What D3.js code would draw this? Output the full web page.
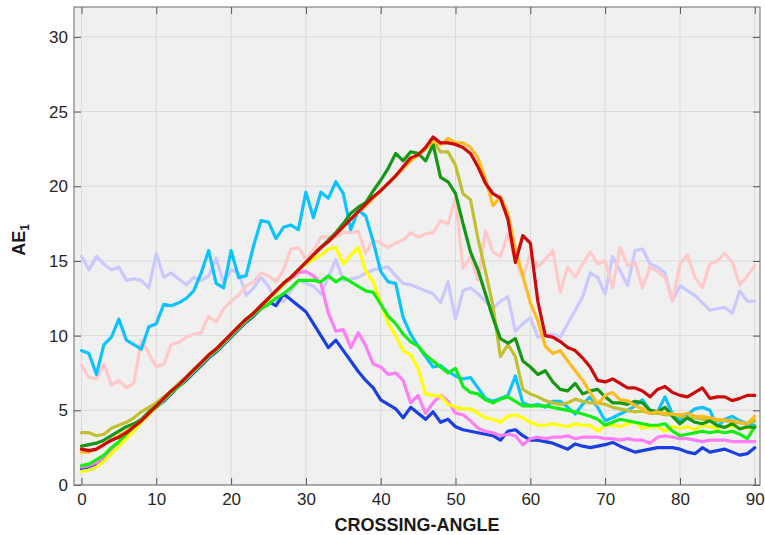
<!DOCTYPE html>
<html>
<head>
<meta charset="utf-8">
<script src="https://cdn.jsdelivr.net/npm/d3@7/dist/d3.min.js"></script>
<style>
body { margin: 0; background: #fff; }
svg text { font-family: "Liberation Sans", Arial, sans-serif; }
</style>
</head>
<body>
<svg id="chart"></svg>
<script>
// x categories (crossing angle, degrees)
var angles = d3.range(0, 91);
var xTicks = [0, 10, 20, 30, 40, 50, 60, 70, 80, 90];
var yTicks = [0, 5, 10, 15, 20, 25, 30];

var lavender = [15.3,14.4,15.3,14.8,14.4,14.6,13.7,13.8,13.7,13.2,15.5,
  13.9,14.2,13.8,13.4,13.9,13.7,14.0,15.2,13.5,14.4,
  14.2,12.7,13.2,13.9,13.3,12.3,12.3,13.0,13.7,13.5,
  13.3,12.8,13.9,15.1,13.7,13.8,13.9,14.2,14.4,14.5,
  14.6,14.0,13.5,13.4,13.2,13.0,12.8,12.2,13.6,11.1,
  13.0,13.2,12.8,12.3,11.8,12.3,12.6,10.3,10.8,11.2,
  9.9,10.0,10.1,9.9,10.8,11.7,12.6,14.2,13.9,12.8,
  15.3,14.35,13.35,15.7,15.8,14.8,14.6,14.2,12.3,13.35,
  13.0,12.7,12.2,11.7,11.8,11.9,11.5,13.0,12.3,12.3];

var pink = [8.0,7.2,7.1,8.1,6.7,7.0,6.5,6.8,9.7,8.8,7.9,
  8.1,9.4,9.55,9.9,10.1,10.2,11.3,10.9,11.8,12.3,
  12.7,13.3,13.6,14.2,14.0,13.6,14.4,15.8,15.9,15.1,
  15.7,16.6,16.6,16.6,16.9,16.9,17.0,15.5,16.4,16.2,
  15.9,16.2,16.4,16.9,16.6,16.8,16.9,17.7,17.5,19.2,
  14.5,15.25,13.7,17.0,15.6,15.3,16.8,15.0,13.9,15.5,
  14.6,15.1,15.7,12.9,14.6,13.9,14.8,15.6,14.8,15.0,
  13.2,15.9,14.7,14.9,13.2,14.6,14.3,13.9,12.3,14.8,
  15.4,13.9,13.2,14.8,15.0,15.5,14.9,13.35,14.0,14.7];

var cyan = [9.0,8.8,7.4,9.4,9.9,11.1,9.7,9.4,9.1,10.6,10.8,
  12.1,12.0,12.2,12.5,13.0,14.2,15.7,13.5,13.2,15.7,
  13.9,14.0,16.0,17.7,17.6,16.5,17.25,17.4,17.1,19.6,
  17.9,19.6,19.2,20.3,19.5,17.1,18.4,18.0,16.3,14.3,
  13.6,13.5,11.2,10.1,9.3,8.6,7.9,8.0,7.6,7.3,
  7.1,7.2,6.5,5.8,5.6,5.8,6.0,7.3,5.5,5.3,
  5.4,5.2,5.6,5.6,5.2,4.75,5.4,5.9,5.2,4.3,
  4.5,4.75,5.0,5.3,5.7,5.0,4.9,5.9,4.75,4.3,
  4.7,5.1,5.2,5.0,3.9,4.4,4.6,4.3,4.1,4.0];

var blue = [1.1,1.2,1.4,1.8,2.3,2.8,3.3,3.8,4.3,4.8,5.2,
  5.6,6.1,6.6,7.0,7.5,8.0,8.5,8.9,9.4,9.9,
  10.4,10.9,11.3,11.8,12.3,12.0,12.8,12.4,12.0,11.6,
  10.8,10.0,9.2,9.7,9.0,8.3,7.6,7.0,6.5,5.7,
  5.4,5.1,4.5,5.2,4.8,4.4,4.9,4.2,4.4,3.9,
  3.7,3.6,3.5,3.4,3.3,3.0,3.6,3.7,3.3,3.0,
  3.0,2.9,2.8,2.6,2.4,2.75,2.6,2.5,2.6,2.7,
  2.85,2.6,2.4,2.2,2.3,2.4,2.5,2.5,2.5,2.4,
  2.2,2.1,2.5,2.2,2.3,2.4,2.2,2.0,2.1,2.5];

var magenta = [1.2,1.3,1.5,1.9,2.3,2.8,3.3,3.8,4.3,4.8,5.2,
  5.7,6.2,6.7,7.1,7.6,8.1,8.6,9.0,9.5,10.0,
  10.5,11.0,11.5,12.0,12.5,13.0,13.4,13.8,14.2,14.3,
  14.0,13.5,11.5,10.3,10.4,9.2,10.2,9.3,8.1,7.9,
  7.4,7.5,7.0,5.5,6.0,4.8,5.5,6.0,5.6,4.8,
  4.7,4.3,3.8,3.6,3.5,3.3,3.4,3.3,2.7,3.1,
  3.2,3.1,3.2,3.2,3.3,3.1,3.2,3.2,3.2,3.1,
  3.1,3.0,3.1,3.0,3.0,2.8,3.2,3.3,3.2,3.1,
  3.1,3.0,2.9,3.0,3.0,3.0,2.9,2.9,2.9,2.9];

var yellow = [0.9,1.0,1.2,1.6,2.1,2.6,3.1,3.6,4.2,4.7,5.2,
  5.7,6.2,6.6,7.1,7.6,8.1,8.6,9.0,9.5,10.0,
  10.5,11.0,11.4,11.9,12.4,12.9,13.4,13.9,14.4,14.8,
  15.1,15.4,15.8,15.9,14.8,15.4,15.9,14.3,13.6,12.2,
  10.8,10.0,9.0,8.7,7.8,6.1,6.0,5.95,5.4,5.2,
  5.1,5.1,4.8,4.5,4.4,4.2,4.6,4.7,4.5,4.2,
  4.0,4.0,4.1,4.0,3.9,4.1,4.0,4.0,3.6,4.0,
  4.0,3.9,4.1,4.2,3.8,3.9,3.9,3.6,3.9,3.8,
  3.9,3.7,4.0,3.9,3.8,3.9,3.9,3.8,3.8,3.9];

var green = [1.3,1.4,1.7,2.0,2.5,2.9,3.4,3.9,4.3,4.8,5.2,
  5.7,6.2,6.6,7.1,7.6,8.1,8.6,9.0,9.5,10.0,
  10.5,11.0,11.4,11.8,12.1,12.5,12.8,13.2,13.7,13.7,
  13.7,13.6,14.0,13.6,13.9,13.6,13.3,13.0,12.9,12.1,
  11.3,10.8,10.1,9.6,9.3,8.7,8.3,7.9,7.5,7.8,
  6.6,6.2,6.1,5.7,5.5,5.75,5.9,5.6,5.3,5.3,
  5.3,5.3,5.2,5.1,5.0,4.9,4.75,4.6,4.4,4.0,
  4.2,4.4,4.3,4.2,4.1,4.0,4.0,4.1,3.6,3.3,
  3.4,3.5,3.6,3.5,3.6,3.5,3.6,3.4,3.1,3.9];

var olive = [3.5,3.5,3.3,3.4,3.8,4.0,4.2,4.5,4.9,5.2,5.5,
  5.9,6.3,6.8,7.2,7.7,8.2,8.7,9.1,9.6,10.1,
  10.6,11.1,11.5,12.0,12.5,13.0,13.5,13.9,14.4,14.9,
  15.4,15.9,16.3,16.8,17.3,17.8,18.3,18.7,19.2,19.7,
  20.2,20.7,21.2,21.7,22.1,22.5,23.0,22.3,22.3,21.4,
  19.5,19.1,16.5,14.3,12.0,8.6,9.4,8.6,6.4,6.1,
  5.9,5.65,5.5,5.4,5.5,5.75,5.6,5.5,5.5,5.4,
  5.2,5.1,5.0,4.9,4.95,4.8,4.8,4.7,4.7,4.6,
  4.5,4.5,4.4,4.4,4.3,4.3,4.2,4.15,4.1,4.3];

var darkGreen = [2.6,2.7,2.8,3.0,3.3,3.6,3.9,4.1,4.4,4.9,5.3,
  5.8,6.3,6.7,7.2,7.7,8.2,8.7,9.1,9.6,10.1,
  10.6,11.1,11.5,12.0,12.5,13.0,13.5,13.9,14.4,14.9,
  15.4,15.9,16.4,16.9,17.5,18.2,18.6,18.9,19.7,20.4,
  21.2,22.2,21.7,22.3,22.2,21.7,22.8,20.6,20.3,19.5,
  17.5,15.6,14.4,12.8,11.2,9.8,9.5,9.8,8.3,7.9,
  7.4,7.65,6.9,6.4,6.3,6.8,6.1,6.3,6.4,5.9,
  5.5,5.5,5.4,5.6,5.5,5.0,4.9,5.2,4.6,4.1,
  4.5,4.2,4.1,4.3,3.97,3.86,4.1,3.75,3.9,3.86];

var orange = [2.2,2.2,2.4,2.7,3.0,3.3,3.6,3.9,4.3,4.8,5.3,
  5.8,6.3,6.7,7.2,7.7,8.2,8.7,9.1,9.6,10.1,
  10.6,11.1,11.5,12.0,12.5,13.0,13.5,13.9,14.4,14.9,
  15.4,15.9,16.3,16.8,17.3,17.8,18.3,18.7,19.2,19.7,
  20.2,20.7,21.2,21.7,22.1,22.5,23.0,22.8,23.2,22.9,
  22.9,22.6,21.9,20.5,18.7,19.3,18.2,15.8,14.0,12.2,
  11.0,9.3,8.8,9.0,8.3,7.65,7.0,6.2,5.4,6.0,
  6.2,5.7,5.65,5.3,5.1,4.8,4.9,4.8,4.75,4.7,
  4.8,4.6,4.6,4.5,4.4,4.35,4.3,4.2,4.1,4.6];

var red = [2.4,2.3,2.4,2.7,3.0,3.2,3.5,3.9,4.3,4.8,5.3,
  5.8,6.3,6.7,7.2,7.7,8.2,8.7,9.1,9.6,10.1,
  10.6,11.1,11.5,12.0,12.5,13.0,13.5,13.9,14.4,14.9,
  15.4,15.9,16.3,16.8,17.3,17.8,18.3,18.8,19.3,19.7,
  20.2,20.7,21.3,21.9,22.1,22.6,23.3,22.9,22.9,22.8,
  22.6,22.2,21.3,20.2,19.5,19.2,17.8,14.9,16.7,16.2,
  12.3,10.0,9.9,9.6,9.2,9.0,8.5,7.9,7.0,6.9,
  7.1,6.8,6.5,6.5,6.3,5.9,6.4,6.6,6.2,6.0,
  5.9,6.2,6.5,5.8,5.9,5.9,5.65,5.8,6.0,6.0];

// drawing order: pale ones at the back, red on top
var series = [
  {values: lavender, color: "#c9c9ff"},
  {values: pink, color: "#ffc9c9"},
  {values: cyan, color: "#0cc3ff"},
  {values: blue, color: "#1a3fe0"},
  {values: magenta, color: "#ff7df5"},
  {values: yellow, color: "#ffff00"},
  {values: green, color: "#12ee12"},
  {values: olive, color: "#c0c030"},
  {values: darkGreen, color: "#149814"},
  {values: orange, color: "#ffbc22"},
  {values: red, color: "#cc0a0a"}
];

var screen = {width: 765, height: 535};
var plot = {left: 74, top: 7, right: 760, bottom: 485};

var svg = d3.select("#chart")
  .attr("width", screen.width)
  .attr("height", screen.height);

svg.append("rect")
  .attr("width", screen.width).attr("height", screen.height)
  .attr("fill", "#fff");

var xScale = d3.scaleLinear().domain([-1, 90.7]).range([plot.left, plot.right]);
var yScale = d3.scaleLinear().domain([0, 32]).range([plot.bottom, plot.top]);

svg.append("rect")
  .attr("x", plot.left).attr("y", plot.top)
  .attr("width", plot.right - plot.left)
  .attr("height", plot.bottom - plot.top)
  .attr("fill", "#f0f0f0");

// grid
var grid = svg.append("g").attr("id", "grid");
grid.selectAll(".gx").data(xTicks).enter().append("line")
  .attr("x1", function(d){ return xScale(d); })
  .attr("x2", function(d){ return xScale(d); })
  .attr("y1", plot.top).attr("y2", plot.bottom)
  .attr("stroke", "#dadada").attr("stroke-width", 1);
grid.selectAll(".gy").data(yTicks).enter().append("line")
  .attr("x1", plot.left).attr("x2", plot.right)
  .attr("y1", function(d){ return yScale(d); })
  .attr("y2", function(d){ return yScale(d); })
  .attr("stroke", "#dadada").attr("stroke-width", 1);

// lines
var clip = svg.append("clipPath").attr("id", "clip")
  .append("rect")
  .attr("x", plot.left).attr("y", plot.top)
  .attr("width", plot.right - plot.left)
  .attr("height", plot.bottom - plot.top);

var lineGen = d3.line()
  .x(function(d, i){ return xScale(angles[i]); })
  .y(function(d){ return yScale(d); });

svg.append("g").attr("clip-path", "url(#clip)")
  .selectAll("path")
  .data(series)
  .enter().append("path")
  .attr("d", function(s){ return lineGen(s.values); })
  .attr("fill", "none")
  .attr("stroke", function(s){ return s.color; })
  .attr("stroke-width", 3.2)
  .attr("stroke-linejoin", "round")
  .attr("stroke-linecap", "round");

// axes, ticks pointing inwards like matlab
var xAxis = d3.axisBottom(xScale).tickValues(xTicks).tickSizeInner(-7).tickSizeOuter(0).tickPadding(8);
var xAxisTop = d3.axisTop(xScale).tickValues(xTicks).tickSizeInner(-7).tickSizeOuter(0).tickFormat("");
var yAxis = d3.axisLeft(yScale).tickValues(yTicks).tickSizeInner(-7).tickSizeOuter(0).tickPadding(6);
var yAxisRight = d3.axisRight(yScale).tickValues(yTicks).tickSizeInner(-7).tickSizeOuter(0).tickFormat("");

function styleAxis(g) {
  g.select(".domain").remove();
  g.selectAll(".tick line").attr("stroke", "#555");
  g.selectAll(".tick text")
    .attr("fill", "#262626")
    .style("font-size", "17px");
}

svg.append("g").attr("transform", "translate(0," + plot.bottom + ")").call(xAxis).call(styleAxis);
svg.append("g").attr("transform", "translate(0," + plot.top + ")").call(xAxisTop).call(styleAxis);
svg.append("g").attr("transform", "translate(" + plot.left + ",0)").call(yAxis).call(styleAxis);
svg.append("g").attr("transform", "translate(" + plot.right + ",0)").call(yAxisRight).call(styleAxis);

svg.append("rect")
  .attr("x", plot.left).attr("y", plot.top)
  .attr("width", plot.right - plot.left)
  .attr("height", plot.bottom - plot.top)
  .attr("fill", "none")
  .attr("stroke", "#6b6b6b")
  .attr("stroke-width", 1);

// labels
svg.append("text")
  .attr("x", (plot.left + plot.right) / 2)
  .attr("y", 531)
  .attr("text-anchor", "middle")
  .attr("font-weight", "bold")
  .attr("font-size", "18px")
  .attr("fill", "#1a1a1a")
  .text("CROSSING-ANGLE");

var yLab = svg.append("text")
  .attr("transform", "translate(25,240) rotate(-90)")
  .attr("text-anchor", "middle")
  .attr("font-weight", "bold")
  .attr("font-size", "18px")
  .attr("fill", "#1a1a1a");
yLab.append("tspan").text("AE");
yLab.append("tspan").attr("font-size", "12px").attr("dy", "4").text("1");
</script>
</body>
</html>
